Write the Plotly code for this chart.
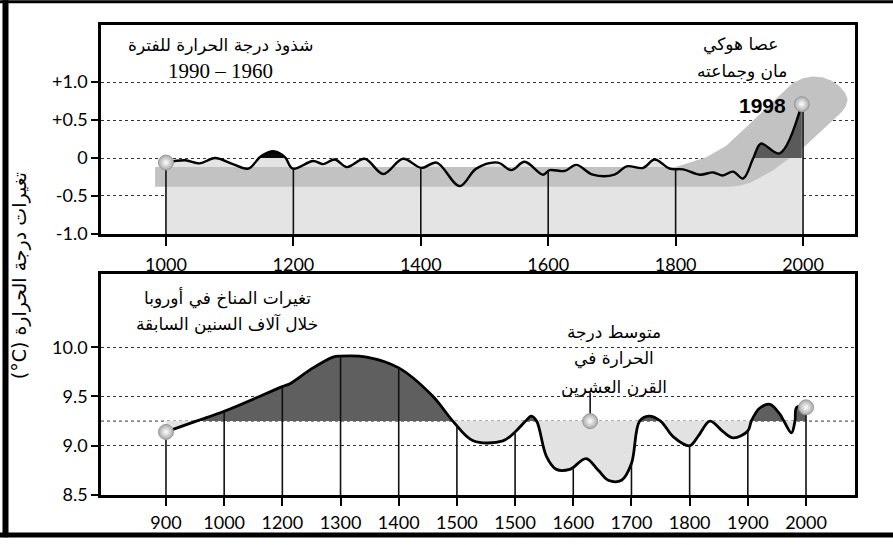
import plotly.graph_objects as go

# ---------------- data: top panel (Mann et al. "hockey stick") ----------------
top_years = [1000, 1030, 1053, 1077, 1105, 1129, 1146, 1152, 1168, 1181, 1188, 1199,
             1231, 1247, 1265, 1284, 1312, 1341, 1372, 1401, 1425, 1461, 1487, 1521,
             1542, 1563, 1592, 1602, 1626, 1644, 1670, 1704, 1723, 1749, 1767, 1791,
             1812, 1838, 1859, 1874, 1890, 1906, 1922, 1934, 1963, 1998]
top_anom = [-0.06, -0.03, -0.07, -0.00, -0.08, -0.14, 0.0, 0.04, 0.09, 0.05, 0.0, -0.14,
            -0.04, -0.08, -0.02, -0.12, -0.01, -0.21, -0.01, -0.13, -0.06, -0.37, -0.14, -0.06,
            -0.16, -0.05, -0.22, -0.16, -0.17, -0.09, -0.22, -0.22, -0.11, -0.13, -0.02, -0.14,
            -0.15, -0.22, -0.19, -0.23, -0.18, -0.27, 0.0, 0.19, 0.06, 0.71]
top_pin_years = [1000, 1200, 1400, 1600, 1800, 2000]
top_pin_vals = [-0.06, -0.14, -0.13, -0.16, -0.15, 0.68]
top_xticks = [1000, 1200, 1400, 1600, 1800, 2000]
top_yticks = [-1.0, -0.5, 0.0, 0.5, 1.0]
top_ytick_text = ["-1.0", "-0.5", "0", "+0.5", "+1.0"]
band_years = [983, 1800, 1848, 1879, 1916, 1953, 1984, 2000, 2015, 2030, 2045, 2057, 2066,
              2070, 2067, 2060, 2045, 2026, 2005, 1989, 1953, 1930, 1916, 1900, 1885, 983]
band_vals = [-0.12, -0.12, 0.01, 0.16, 0.45, 0.75, 0.99, 1.05, 1.075, 1.065, 1.02, 0.95, 0.86,
             0.77, 0.68, 0.60, 0.48, 0.34, 0.17, 0.06, -0.16, -0.27, -0.33, -0.365, -0.38, -0.38]
top_marker_years = [1000, 1998]
top_marker_vals = [-0.06, 0.71]

# ---------------- data: bottom panel (Europe climate) ----------------
bot_pos = [0, 0.52, 1, 2, 2.13, 2.5, 2.87, 3.0, 3.45, 4.0, 4.59, 4.93, 5.28, 5.79, 6.0,
           6.18, 6.28, 6.37, 6.54, 6.71, 6.94, 7.0, 7.22, 7.43, 7.60, 7.83, 8.0, 8.14,
           8.30, 8.50, 8.72, 9.0, 9.15, 9.35, 9.58, 9.75, 10.0, 10.06, 10.20, 10.38,
           10.55, 10.62, 10.75, 10.81, 10.84, 11.0]
bot_temp = [9.14, 9.25, 9.35, 9.60, 9.63, 9.78, 9.90, 9.91, 9.90, 9.79, 9.50, 9.25, 9.05, 9.05, 9.14,
            9.25, 9.30, 9.25, 8.89, 8.76, 8.76, 8.78, 8.87, 8.75, 8.65, 8.65, 8.82, 9.25,
            9.30, 9.25, 9.09, 9.00, 9.10, 9.25, 9.14, 9.08, 9.15, 9.25, 9.38, 9.42,
            9.32, 9.25, 9.13, 9.25, 9.39, 9.39]
bot_tick_pos = [0, 1, 2, 3, 4, 5, 6, 7, 8, 9, 10, 11]
bot_tick_labels = ["900", "1000", "1200", "1300", "1400", "1500", "1500", "1600",
                   "1700", "1800", "1900", "2000"]
bot_pin_vals = [9.14, 9.35, 9.60, 9.91, 9.79, 9.20, 9.14, 8.78, 8.82, 9.00, 9.15, 9.39]
bot_yticks = [8.5, 9.0, 9.5, 10.0]
bot_ytick_text = ["8.5", "9.0", "9.5", "10.0"]
mean_20c = 9.25
mean_marker_pos = 7.29
mean_label_bottom = 9.54
bot_marker_pos = [0, 11]
bot_marker_vals = [9.14, 9.39]

# ---------------- texts ----------------
txt_top_left_1 = "شذوذ درجة الحرارة للفترة"
txt_top_left_2 = "1990 – 1960"
txt_top_right_1 = "عصا هوكي"
txt_top_right_2 = "مان وجماعته"
txt_1998 = "1998"
txt_bot_left_1 = "تغيرات المناخ في أوروبا"
txt_bot_left_2 = "خلال آلاف السنين السابقة"
txt_mean = ["متوسط درجة", "الحرارة في", "القرن العشرين"]
txt_ytitle = "\u202Bتغيرات درجة الحرارة (\u200E°C)\u202C"

# ---------------- layout geometry (pixels) ----------------
W, H = 893, 545
L, R, T, B = 101, 38, 25, 43
PW, PH = W - L - R, H - T - B


def px(x):
    return (x - L) / PW


def py(y):
    return (H - B - y) / PH


ARABIC = "DejaVu Sans"
NUM = "Lato"


def segments(xs, ys, base):
    segs, cur = [], []
    for x, y in zip(xs, ys):
        if y >= base:
            cur.append((x, y))
        else:
            if len(cur) >= 3:
                segs.append(cur)
            cur = []
    if len(cur) >= 3:
        segs.append(cur)
    return segs


fig = go.Figure()

# ---- top panel ----
fig.add_trace(go.Scatter(x=[top_years[0], top_years[-1]], y=[top_yticks[0]] * 2, mode="lines",
                         line=dict(width=0), hoverinfo="skip", xaxis="x", yaxis="y"))
fig.add_trace(go.Scatter(x=top_years, y=top_anom, mode="lines", fill="tonexty",
                         fillcolor="#e4e4e4", line=dict(width=0, shape="spline"),
                         hoverinfo="skip", xaxis="x", yaxis="y"))
fig.add_trace(go.Scatter(x=band_years, y=band_vals, mode="lines", fill="toself",
                         fillcolor="#c2c2c2", line=dict(width=0), hoverinfo="skip",
                         xaxis="x", yaxis="y"))
top_seg_colors = ["#0a0a0a", "#5a5a5a"]
for i, seg in enumerate(segments(top_years, top_anom, 0.0)):
    sx = [p[0] for p in seg]
    sy = [p[1] for p in seg]
    fig.add_trace(go.Scatter(x=[sx[0], sx[-1]], y=[0, 0], mode="lines", line=dict(width=0),
                             hoverinfo="skip", xaxis="x", yaxis="y"))
    fig.add_trace(go.Scatter(x=sx, y=sy, mode="lines", fill="tonexty",
                             fillcolor=top_seg_colors[min(i, len(top_seg_colors) - 1)],
                             line=dict(width=0, shape="spline"), hoverinfo="skip",
                             xaxis="x", yaxis="y"))
fig.add_trace(go.Scatter(x=top_years, y=top_anom, mode="lines",
                         line=dict(color="black", width=2.4, shape="spline"),
                         hoverinfo="skip", xaxis="x", yaxis="y"))
pin_x, pin_y = [], []
for yr, v in zip(top_pin_years, top_pin_vals):
    pin_x += [yr, yr, None]
    pin_y += [v, top_yticks[0], None]
fig.add_trace(go.Scatter(x=pin_x, y=pin_y, mode="lines", line=dict(color="#111", width=1.6),
                         hoverinfo="skip", xaxis="x", yaxis="y"))
fig.add_trace(go.Scatter(x=top_marker_years, y=top_marker_vals, mode="markers",
                         marker=dict(size=15, color="#a9a9a9",
                                     gradient=dict(type="radial", color="#ffffff"),
                                     line=dict(color="#9a9a9a", width=1)),
                         hoverinfo="skip", xaxis="x", yaxis="y"))

# ---- bottom panel ----
fig.add_trace(go.Scatter(x=[bot_pos[0], bot_pos[-1]], y=[mean_20c] * 2, mode="lines",
                         line=dict(width=0), hoverinfo="skip", xaxis="x2", yaxis="y2"))
fig.add_trace(go.Scatter(x=bot_pos, y=bot_temp, mode="lines", fill="tonexty",
                         fillcolor="#e2e2e2", line=dict(width=0, shape="spline"),
                         hoverinfo="skip", xaxis="x2", yaxis="y2"))
for seg in segments(bot_pos, bot_temp, mean_20c):
    sx = [p[0] for p in seg]
    sy = [p[1] for p in seg]
    fig.add_trace(go.Scatter(x=[sx[0], sx[-1]], y=[mean_20c] * 2, mode="lines",
                             line=dict(width=0), hoverinfo="skip", xaxis="x2", yaxis="y2"))
    fig.add_trace(go.Scatter(x=sx, y=sy, mode="lines", fill="tonexty", fillcolor="#5f5f5f",
                             line=dict(width=0, shape="spline"), hoverinfo="skip",
                             xaxis="x2", yaxis="y2"))
fig.add_trace(go.Scatter(x=bot_pos, y=bot_temp, mode="lines",
                         line=dict(color="black", width=2.8, shape="spline"),
                         hoverinfo="skip", xaxis="x2", yaxis="y2"))
bpin_x, bpin_y = [], []
for p, v in zip(bot_tick_pos, bot_pin_vals):
    bpin_x += [p, p, None]
    bpin_y += [v, bot_yticks[0], None]
bpin_x += [mean_marker_pos, mean_marker_pos, None]
bpin_y += [mean_20c, mean_label_bottom, None]
fig.add_trace(go.Scatter(x=bpin_x, y=bpin_y, mode="lines", line=dict(color="#111", width=1.6),
                         hoverinfo="skip", xaxis="x2", yaxis="y2"))
fig.add_trace(go.Scatter(x=bot_marker_pos + [mean_marker_pos],
                         y=bot_marker_vals + [mean_20c], mode="markers",
                         marker=dict(size=15, color="#a9a9a9",
                                     gradient=dict(type="radial", color="#ffffff"),
                                     line=dict(color="#9a9a9a", width=1)),
                         hoverinfo="skip", xaxis="x2", yaxis="y2"))

# ---- axes ----
axis_font = dict(family=NUM, size=18, color="black")
common = dict(showline=True, linecolor="black", linewidth=2.5, mirror=True, ticks="outside",
              tickcolor="black", tickwidth=1.5, tickfont=axis_font, zeroline=False)
grid = dict(showgrid=True, gridcolor="#333", gridwidth=1, griddash="dot")

x0_top = 1000 - (166 - L) / 127.5 * 200
x1_top = 2000 + (L + PW - 803) / 127.5 * 200
x0_bot = 0 - (166 - L) / 58.2
x1_bot = 11 + (L + PW - 806) / 58.2
top_dom = [py(237), 1.0]
bot_dom = [0.0, py(278)]
y1_top = -1.0 + (237 - 25) / 77.0
y1_bot = 8.5 + (502 - 278) / 100.0

fig.update_layout(
    width=W, height=H, margin=dict(l=L, r=R, t=T, b=B),
    paper_bgcolor="white", plot_bgcolor="white", showlegend=False,
    xaxis=dict(domain=[0, 1], range=[x0_top, x1_top], tickvals=top_xticks, ticklen=9,
               showgrid=False, anchor="y", ticklabelstandoff=4, **common),
    yaxis=dict(domain=top_dom, range=[-1.0, y1_top], tickvals=top_yticks,
               ticktext=top_ytick_text, ticklen=7, anchor="x", **grid, **common),
    xaxis2=dict(domain=[0, 1], range=[x0_bot, x1_bot], tickvals=bot_tick_pos,
                ticktext=bot_tick_labels, ticklen=8, showgrid=False, anchor="y2",
                ticklabelstandoff=2, **common),
    yaxis2=dict(domain=bot_dom, range=[8.5, y1_bot], tickvals=bot_yticks,
                ticktext=bot_ytick_text, ticklen=7, anchor="x2", **grid, **common),
)

# 20th century mean dotted line
fig.add_shape(type="line", xref="x2", yref="y2", x0=x0_bot, x1=x1_bot, y0=mean_20c, y1=mean_20c,
              line=dict(color="#333", width=1, dash="dot"), layer="below")

# outer frame (top, left, bottom edges)
fig.add_shape(type="line", xref="paper", yref="paper", x0=px(0), x1=px(W), y0=py(1.5), y1=py(1.5),
              line=dict(color="black", width=3))
fig.add_shape(type="line", xref="paper", yref="paper", x0=px(5.5), x1=px(5.5), y0=py(H), y1=py(0),
              line=dict(color="black", width=6))
fig.add_shape(type="line", xref="paper", yref="paper", x0=px(0), x1=px(W), y0=py(542.5),
              y1=py(542.5), line=dict(color="black", width=5))


def note(text, x, y, size=18, family=ARABIC, xanchor="center", bold=False, angle=0):
    fig.add_annotation(text=("<b>%s</b>" % text) if bold else text, xref="paper", yref="paper",
                       x=px(x), y=py(y), xanchor=xanchor, yanchor="middle", showarrow=False,
                       textangle=angle, font=dict(family=family, size=size, color="black"))


note(txt_top_left_1, 220, 45, size=17)
note(txt_top_left_2, 220, 72, size=21, family="Liberation Serif")
note(txt_top_right_1, 740, 45, size=17)
note(txt_top_right_2, 742, 72, size=17)
note(txt_1998, 788, 107, size=21, family="Liberation Sans", xanchor="right", bold=True)
note(txt_bot_left_1, 227, 302, size=17)
note(txt_bot_left_2, 227, 328, size=17)
for t, yy in zip(txt_mean, [337, 363, 392]):
    note(t, 614, yy, size=17)
note(txt_ytitle, 19, 280, size=19, angle=-90)

fig.write_html("out.html", config={"displayModeBar": False},
               post_script="document.body.style.margin='0';document.body.style.overflow='hidden';")
